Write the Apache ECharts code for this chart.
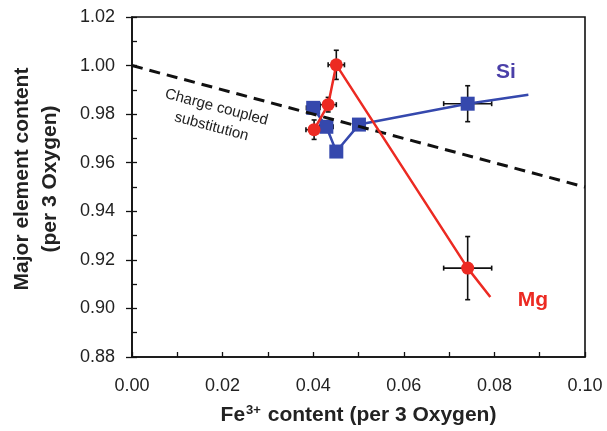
<!DOCTYPE html>
<html><head><meta charset="utf-8">
<script src="https://cdn.jsdelivr.net/npm/echarts@6/dist/echarts.min.js"></script>
<style>html,body{margin:0;padding:0;background:#fff}#c{width:607px;height:431px}</style>
</head><body><div id="c"></div>
<script>
// Fe3+ content (x) and major element content (y)
const mgX = [0.0402, 0.0433, 0.0451, 0.0741];
const mgY = [0.9736, 0.9839, 1.0003, 0.9166];
const mgXErr = [0.0018, 0.0018, 0.0018, 0.0053];
const mgYErr = [0.0040, 0.0030, 0.0060, 0.0130];
const mgLineEnd = [0.0791, 0.9047];

const siX = [0.0400, 0.0429, 0.0451, 0.0501, 0.0741];
const siY = [0.9826, 0.9748, 0.9646, 0.9757, 0.9843];
const siXErr = [0.0015, 0.0015, 0.0012, 0.0012, 0.0053];
const siYErr = [0.0020, 0.0020, 0.0020, 0.0020, 0.0074];
const siLineEnd = [0.0875, 0.9880];

const chargeLine = [[0.0, 1.00], [0.10, 0.95]];

const xMin = 0, xMax = 0.10, xInterval = 0.02;
const yMin = 0.88, yMax = 1.02, yInterval = 0.02;

const RED = '#ec2a22', BLUE = '#3548ad';

const mgPts = mgX.map((x, i) => [x, mgY[i]]);
const siPts = siX.map((x, i) => [x, siY[i]]);
const errData = mgX.map((x, i) => [x, mgY[i], mgXErr[i], mgYErr[i]])
  .concat(siX.map((x, i) => [x, siY[i], siXErr[i], siYErr[i]]));

function errRender(params, api) {
  const x = api.value(0), y = api.value(1), dx = api.value(2), dy = api.value(3);
  const c = api.coord([x, y]);
  const l = api.coord([x - dx, y]), r = api.coord([x + dx, y]);
  const t = api.coord([x, y + dy]), b = api.coord([x, y - dy]);
  const cap = 2.5;
  const st = {stroke: '#111', lineWidth: 1.6};
  const line = (x1, y1, x2, y2) => ({type: 'line', shape: {x1, y1, x2, y2}, style: st});
  return {type: 'group', children: [
    line(l[0], c[1], r[0], c[1]),
    line(c[0], t[1], c[0], b[1]),
    line(l[0], c[1] - cap, l[0], c[1] + cap),
    line(r[0], c[1] - cap, r[0], c[1] + cap),
    line(c[0] - cap, t[1], c[0] + cap, t[1]),
    line(c[0] - cap, b[1], c[0] + cap, b[1])
  ]};
}

const chart = echarts.init(document.getElementById('c'), null, {renderer: 'canvas'});
const fnt = '"Liberation Sans", Arial, sans-serif';
chart.setOption({
  backgroundColor: '#ffffff',
  animation: false,
  grid: {left: 130, right: 22, top: 17, bottom: 73, show: true, borderColor: '#111', borderWidth: 1.6, backgroundColor: 'transparent'},
  xAxis: [{
    type: 'value', min: xMin, max: xMax, interval: xInterval,
    axisLine: {show: true, lineStyle: {color: '#111', width: 1.6}},
    axisTick: {show: true, inside: true, length: 5, lineStyle: {color: '#111', width: 1.3}},
    minorTick: {show: true, splitNumber: 2, length: 5, lineStyle: {color: '#111', width: 1.3}},
    splitLine: {show: false},
    axisLabel: {fontFamily: fnt, fontSize: 18, color: '#222', margin: 20, formatter: v => v.toFixed(2)},
    name: '{b|Fe}{s|3+}{b| content (per 3 Oxygen)}',
    nameLocation: 'middle', nameGap: 46,
    nameTextStyle: {rich: {
      b: {fontFamily: fnt, fontWeight: 'bold', fontSize: 21, color: '#222', lineHeight: 24},
      s: {fontFamily: fnt, fontWeight: 'bold', fontSize: 13, color: '#222', padding: [0, 1, 9, 1], lineHeight: 24}
    }}
  }],
  yAxis: [{
    type: 'value', min: yMin, max: yMax, interval: yInterval,
    axisLine: {show: true, lineStyle: {color: '#111', width: 1.6}},
    axisTick: {show: true, inside: false, length: 6, lineStyle: {color: '#111', width: 1.3}},
    splitLine: {show: false},
    axisLabel: {fontFamily: fnt, fontSize: 18, color: '#222', margin: 17, formatter: v => v.toFixed(2)},
    name: 'Major element content\n(per 3 Oxygen)',
    nameLocation: 'middle', nameGap: 68,
    nameTextStyle: {fontFamily: fnt, fontWeight: 'bold', fontSize: 21, color: '#222', lineHeight: 28, padding: [0, 0, 0, 16]}
  }, {
    type: 'value', min: yMin, max: yMax, interval: 0.01, position: 'left',
    axisLine: {show: false},
    axisTick: {show: true, inside: true, length: 5, lineStyle: {color: '#111', width: 1.3}},
    splitLine: {show: false},
    axisLabel: {show: false}
  }],
  series: [
    {type: 'custom', name: 'err', renderItem: errRender, data: errData, z: 1, silent: true,
     encode: {x: 0, y: 1}},
    {type: 'line', name: 'Si line', data: siPts.concat([siLineEnd]), showSymbol: false, symbol: 'none',
     lineStyle: {color: BLUE, width: 2.5}, z: 2, silent: true},
    {type: 'scatter', name: 'Si', data: siPts, symbol: 'rect', symbolSize: 14,
     itemStyle: {color: BLUE, opacity: 1}, z: 3},
    {type: 'line', name: 'Charge coupled', data: chargeLine, symbol: 'none',
     lineStyle: {color: '#111', width: 3, type: [11, 7]}, z: 4, silent: true},
    {type: 'line', name: 'Mg line', data: mgPts.concat([mgLineEnd]), symbol: 'none',
     lineStyle: {color: RED, width: 2.5}, z: 5, silent: true},
    {type: 'scatter', name: 'Mg', data: mgPts, symbol: 'circle', symbolSize: 13,
     itemStyle: {color: RED, opacity: 1}, z: 6}
  ],
  graphic: [
    {type: 'text', x: 214, y: 117, rotation: -0.26,
     style: {text: 'Charge coupled\nsubstitution', fontFamily: fnt, fontSize: 15, fill: '#222',
             align: 'center', verticalAlign: 'middle', lineHeight: 20}, z: 10},
    {type: 'text', x: 506, y: 72,
     style: {text: 'Si', fontFamily: fnt, fontWeight: 'bold', fontSize: 21, fill: '#4a3fa8',
             align: 'center', verticalAlign: 'middle'}, z: 10},
    {type: 'text', x: 533, y: 300,
     style: {text: 'Mg', fontFamily: fnt, fontWeight: 'bold', fontSize: 21, fill: '#ec2a22',
             align: 'center', verticalAlign: 'middle'}, z: 10}
  ]
});
</script></body></html>
